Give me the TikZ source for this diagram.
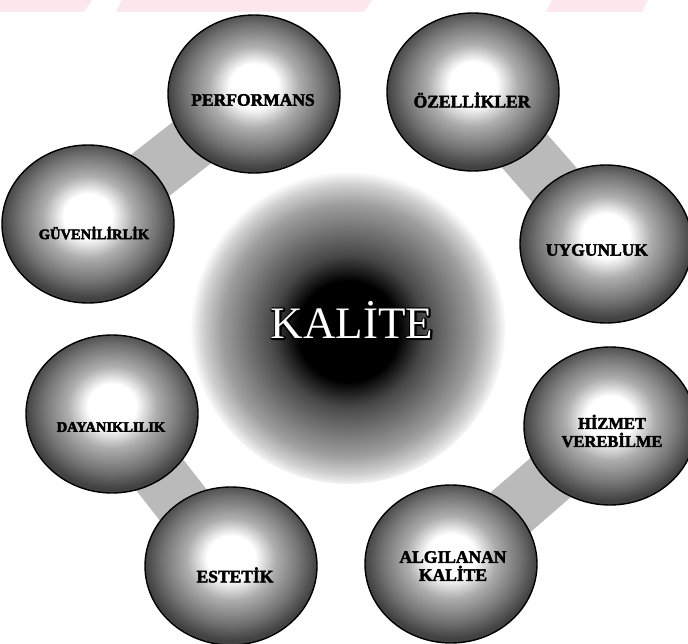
\documentclass[tikz,border=0pt]{standalone}
\usepackage{fontspec}
\setmainfont{Liberation Serif}
\usetikzlibrary{shapes.geometric}
\pgfdeclareradialshading{ballshade}{\pgfpoint{0bp}{3bp}}{color(0bp)=(white); color(7bp)=(white); color(13bp)=(black!32); color(20bp)=(black!55); color(25bp)=(black!74); color(50bp)=(black!74)}
\pgfdeclareradialshading{glowshade}{\pgfpoint{0bp}{-1bp}}{color(0bp)=(black); color(8bp)=(black); color(12bp)=(black!72); color(16bp)=(black!55); color(20bp)=(black!38); color(23bp)=(black!18); color(25bp)=(white); color(50bp)=(white)}
\definecolor{wmpink}{RGB}{252,232,236}
\newcommand{\fattext}[1]{\special{pdf:code q 2 Tr 3.2 w 1 j}#1\special{pdf:code Q}}
\newcommand{\heavy}[1]{\special{pdf:code q 2 Tr 0.45 w 1 j}#1\special{pdf:code Q}}
\begin{document}
\begin{tikzpicture}[x=1pt,y=-1pt,
  ball/.style={ellipse, draw=black, line width=1.4pt, shading=ballshade,
    minimum width=172pt, minimum height=158pt, inner sep=0pt},
  glow/.style={circle, shading=glowshade, minimum size=316pt, inner sep=0pt},
  band/.style={line width=56pt, draw=black!27},
  lab/.style={font=\bfseries\fontsize{#1}{18}\selectfont, align=center, inner sep=0pt},
  lab/.default=17.5,
  titlefont/.style={font=\fontsize{45}{50}\selectfont, inner sep=0pt}]
\useasboundingbox (0,0) rectangle (688,644);
\fill[white] (0,0) rectangle (688,644);
% faint watermark at top
\fill[wmpink] (0,0) -- (92,0) -- (84,12) -- (0,12) -- cycle;
\fill[wmpink] (122,0) -- (372,0) -- (364,12) -- (116,12) -- cycle;
\fill[wmpink] (552,0) -- (648,0) -- (642,12) -- (546,12) -- cycle;
% centres
\coordinate (cperf) at (254,94);
\coordinate (cozel) at (473,92);
\coordinate (cguv) at (88,224);
\coordinate (cuyg) at (606,244);
\coordinate (cday) at (112,414);
\coordinate (chiz) at (610,426);
\coordinate (cest) at (231,566);
\coordinate (calg) at (451,564);
\coordinate (ctitle) at (352,320);
% central glow
\node[glow] (core) at (348,326) {};
% bands between neighbouring circles
\draw[band] (cperf) -- (cguv);
\draw[band] (cozel) -- (cuyg);
\draw[band] (cday) -- (cest);
\draw[band] (chiz) -- (calg);
% circles
\node[ball] (perf) at (cperf) {};
\node[ball] (ozel) at (cozel) {};
\node[ball] (guv) at (cguv) {};
\node[ball] (uyg) at (cuyg) {};
\node[ball] (day) at (cday) {};
\node[ball] (hiz) at (chiz) {};
\node[ball] (est) at (cest) {};
\node[ball] (alg) at (calg) {};
% labels
\node[lab] (tperf) at (253,100) {\heavy{PERFORMANS}};
\node[lab] (tozel) at (472,100) {\heavy{ÖZELLİKLER}};
\node[lab=14.5] (tguv) at (94,233) {\heavy{GÜVENİLİRLİK}};
\node[lab] (tuyg) at (597,250) {\heavy{UYGUNLUK}};
\node[lab=14.5] (tday) at (111,427) {\heavy{DAYANIKLILIK}};
\node[lab=16.5] (thiz) at (612,431) {\heavy{HİZMET}\\\heavy{VEREBİLME}};
\node[lab] (test) at (235,575) {\heavy{ESTETİK}};
\node[lab] (talg) at (453,566) {\heavy{ALGILANAN}\\\heavy{KALİTE}};
% central title: white with black outline
\node[titlefont, text=black] (titleshadow) at (ctitle) {\fattext{KALİTE}};
\node[titlefont, text=white] (title) at (ctitle) {KALİTE};
\end{tikzpicture}
\end{document}
